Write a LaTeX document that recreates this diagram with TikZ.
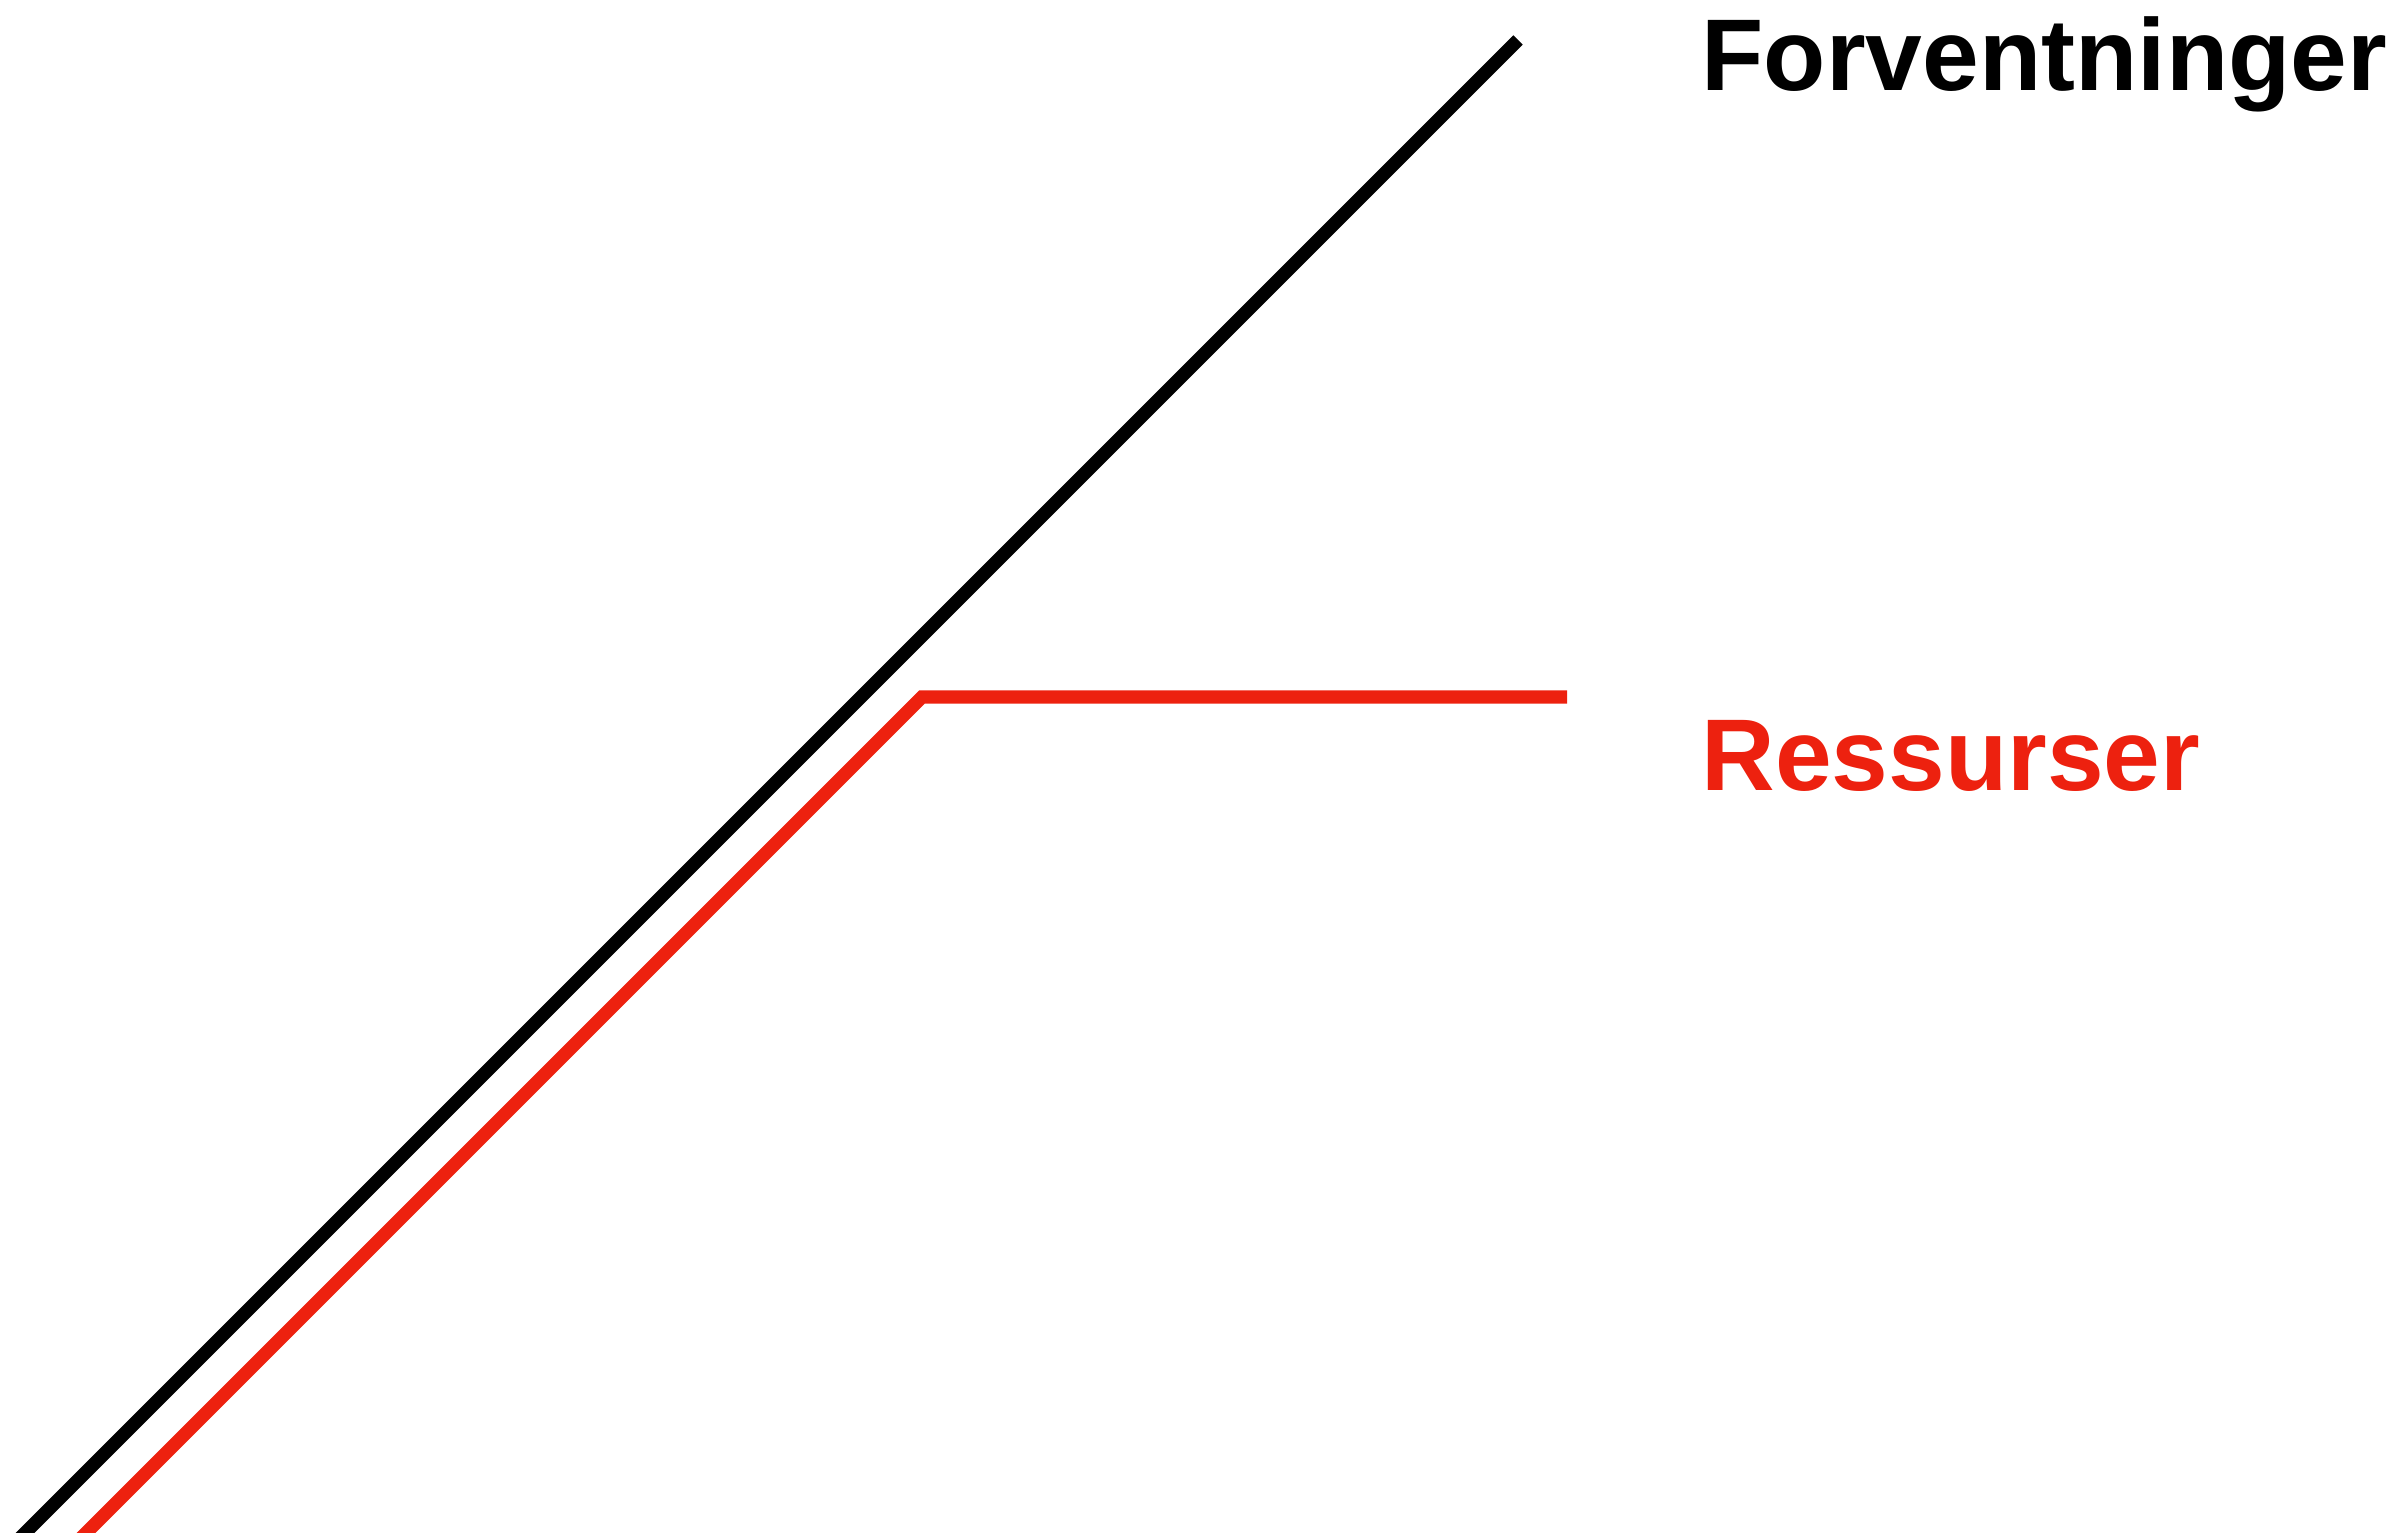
\documentclass[tikz,border=0pt]{standalone}
\usepackage{fontspec}
\setmainfont{Liberation Sans}
\usepackage{tikz}
\usetikzlibrary{positioning,calc}
\definecolor{ressred}{RGB}{237,33,15}

\begin{document}
\begin{tikzpicture}[
    curve/.style={line width=3.8pt, draw=#1},
    lbl/.style={anchor=base west, inner sep=0pt, font=\fontsize{29}{34}\selectfont\bfseries, text=#1}
]
\useasboundingbox (0,0) rectangle (24.07,15.33);

\coordinate (fTop) at (15.18,14.93);
\coordinate (fBottom) at (0.05,-0.20);
\coordinate (rKnee) at (9.22,8.36);
\coordinate (rEnd) at (15.67,8.36);
\coordinate (rBottom) at (0.66,-0.20);

\node[lbl=black] (forv) at (17.01,14.42) {Forventninger};
\node[lbl=ressred] (ress) at (17.01,7.42) {Ressurser};

\draw[curve=black] (fBottom) -- (fTop);
\draw[curve=ressred] (rBottom) -- (rKnee) -- (rEnd);
\end{tikzpicture}
\end{document}
